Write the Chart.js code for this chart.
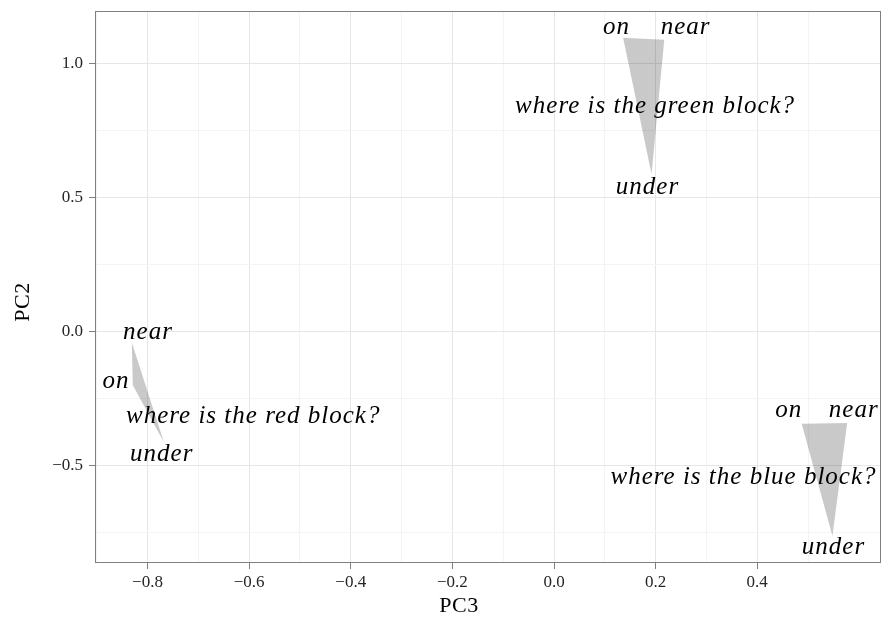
<!DOCTYPE html>
<html>
<head>
<meta charset="utf-8">
<script src="https://cdn.jsdelivr.net/npm/chart.js@4/dist/chart.umd.min.js"></script>
<style>
  html, body { margin: 0; padding: 0; background: #ffffff; }
  #wrap { width: 884px; height: 620px; }
</style>
</head>
<body>
<div id="wrap"><canvas id="c" width="884" height="620"></canvas></div>
<script>
// ---- data ----
const prepositions = ['on', 'near', 'under'];

const greenPC3 = [0.136, 0.217, 0.192];
const greenPC2 = [1.098, 1.090, 0.588];
const redPC3   = [-0.829, -0.831, -0.768];
const redPC2   = [-0.201, -0.040, -0.413];
const bluePC3  = [0.4875, 0.577, 0.548];
const bluePC2  = [-0.344, -0.342, -0.764];

const questions = ['where is the green block?', 'where is the red block?', 'where is the blue block?'];
const questionPC3 = [0.199, -0.592, 0.373];
const questionPC2 = [0.818, -0.342, -0.568];

// preposition label anchors (on, near, under)
const greenLabelPC3 = [0.123, 0.259, 0.184];
const greenLabelPC2 = [1.111, 1.111, 0.514];
const redLabelPC3   = [-0.862, -0.799, -0.772];
const redLabelPC2   = [-0.212, -0.027, -0.484];
const blueLabelPC3  = [0.462, 0.590, 0.550];
const blueLabelPC2  = [-0.320, -0.320, -0.830];

const xMajorTicks = [-0.8, -0.6, -0.4, -0.2, 0.0, 0.2, 0.4];
const xMinorTicks = [-0.9, -0.7, -0.5, -0.3, -0.1, 0.1, 0.3, 0.5];
const yMajorTicks = [-0.5, 0.0, 0.5, 1.0];
const yMinorTicks = [-0.75, -0.25, 0.25, 0.75];

const xTitle = 'PC3';
const yTitle = 'PC2';

// ---- helpers ----
const pts = (xs, ys) => xs.map((x, i) => ({ x: x, y: ys[i] }));
const fmt = v => (v < 0 ? '\u2212' : '') + Math.abs(v).toFixed(1);
const isMajor = (list, v) => list.some(m => Math.abs(m - v) < 1e-9);

const triangleStyle = {
  showLine: true,
  fill: 'shape',
  borderWidth: 0,
  borderColor: 'rgba(0,0,0,0)',
  backgroundColor: 'rgba(0,0,0,0.21)',
  pointRadius: 0,
  pointHoverRadius: 0,
  tension: 0
};

const labelSets = [
  { xs: greenLabelPC3, ys: greenLabelPC2, texts: prepositions },
  { xs: redLabelPC3,   ys: redLabelPC2,   texts: prepositions },
  { xs: blueLabelPC3,  ys: blueLabelPC2,  texts: prepositions },
  { xs: questionPC3,   ys: questionPC2,   texts: questions }
];

const panelPlugin = {
  id: 'panel',
  afterDatasetsDraw(chart) {
    const ctx = chart.ctx;
    const xs = chart.scales.x, ys = chart.scales.y;
    ctx.save();
    ctx.fillStyle = '#000000';
    ctx.font = 'italic 25px "Liberation Serif"';
    ctx.letterSpacing = '1px';
    ctx.textAlign = 'center';
    ctx.textBaseline = 'alphabetic';
    labelSets.forEach(set => {
      set.texts.forEach((t, i) => {
        ctx.fillText(t, xs.getPixelForValue(set.xs[i]), ys.getPixelForValue(set.ys[i]));
      });
    });
    ctx.restore();
  },
  afterDraw(chart) {
    const ctx = chart.ctx;
    const a = chart.chartArea;
    ctx.save();
    // panel border
    ctx.strokeStyle = '#7f7f7f';
    ctx.lineWidth = 1;
    ctx.strokeRect(Math.round(a.left) - 0.5, Math.round(a.top) - 0.5,
                   Math.round(a.right - a.left) + 1, Math.round(a.bottom - a.top) + 1);
    // axis titles
    ctx.fillStyle = '#000000';
    ctx.font = '22px "Liberation Serif"';
    ctx.letterSpacing = '0.5px';
    ctx.textAlign = 'center';
    ctx.textBaseline = 'alphabetic';
    ctx.fillText(xTitle, (a.left + a.right) / 2 - 29, 611.5);
    ctx.translate(28.5, (a.top + a.bottom) / 2 + 15);
    ctx.rotate(-Math.PI / 2);
    ctx.fillText(yTitle, 0, 0);
    ctx.restore();
  }
};

new Chart(document.getElementById('c'), {
  type: 'scatter',
  data: {
    datasets: [
      Object.assign({ label: 'green', data: pts(greenPC3, greenPC2) }, triangleStyle),
      Object.assign({ label: 'red',   data: pts(redPC3, redPC2) }, triangleStyle),
      Object.assign({ label: 'blue',  data: pts(bluePC3, bluePC2) }, triangleStyle)
    ]
  },
  options: {
    responsive: false,
    animation: false,
    events: [],
    layout: { padding: { top: 12, right: 4, left: 0, bottom: 0 } },
    plugins: { legend: { display: false }, tooltip: { enabled: false } },
    scales: {
      x: {
        type: 'linear',
        min: -0.9014,
        max: 0.6416,
        afterFit(s) { s.height = 58; s.paddingLeft = 0; s.paddingRight = 0; },
        afterBuildTicks(s) {
          s.ticks = xMajorTicks.concat(xMinorTicks).sort((p, q) => p - q).map(v => ({ value: v }));
        },
        border: { display: false },
        grid: {
          drawTicks: true,
          tickLength: 7,
          lineWidth: 1,
          color: c => isMajor(xMajorTicks, c.tick.value) ? '#e6e6e6' : '#f4f4f4',
          tickColor: c => isMajor(xMajorTicks, c.tick.value) ? '#7f7f7f' : 'rgba(0,0,0,0)',
          tickWidth: 1
        },
        ticks: {
          autoSkip: false,
          maxRotation: 0,
          padding: 3,
          color: '#262626',
          font: { family: '"Liberation Serif"', size: 17 },
          callback: v => isMajor(xMajorTicks, v) ? fmt(v) : ''
        },
        title: { display: false }
      },
      y: {
        type: 'linear',
        min: -0.861,
        max: 1.194,
        afterFit(s) { s.width = 96; s.paddingTop = 0; s.paddingBottom = 0; },
        afterBuildTicks(s) {
          s.ticks = yMajorTicks.concat(yMinorTicks).sort((p, q) => p - q).map(v => ({ value: v }));
        },
        border: { display: false },
        grid: {
          drawTicks: true,
          tickLength: 7,
          lineWidth: 1,
          color: c => isMajor(yMajorTicks, c.tick.value) ? '#e6e6e6' : '#f4f4f4',
          tickColor: c => isMajor(yMajorTicks, c.tick.value) ? '#7f7f7f' : 'rgba(0,0,0,0)',
          tickWidth: 1
        },
        ticks: {
          autoSkip: false,
          padding: 6,
          color: '#262626',
          font: { family: '"Liberation Serif"', size: 17 },
          callback: v => isMajor(yMajorTicks, v) ? fmt(v) : ''
        },
        title: { display: false }
      }
    }
  },
  plugins: [panelPlugin]
});
</script>
</body>
</html>
